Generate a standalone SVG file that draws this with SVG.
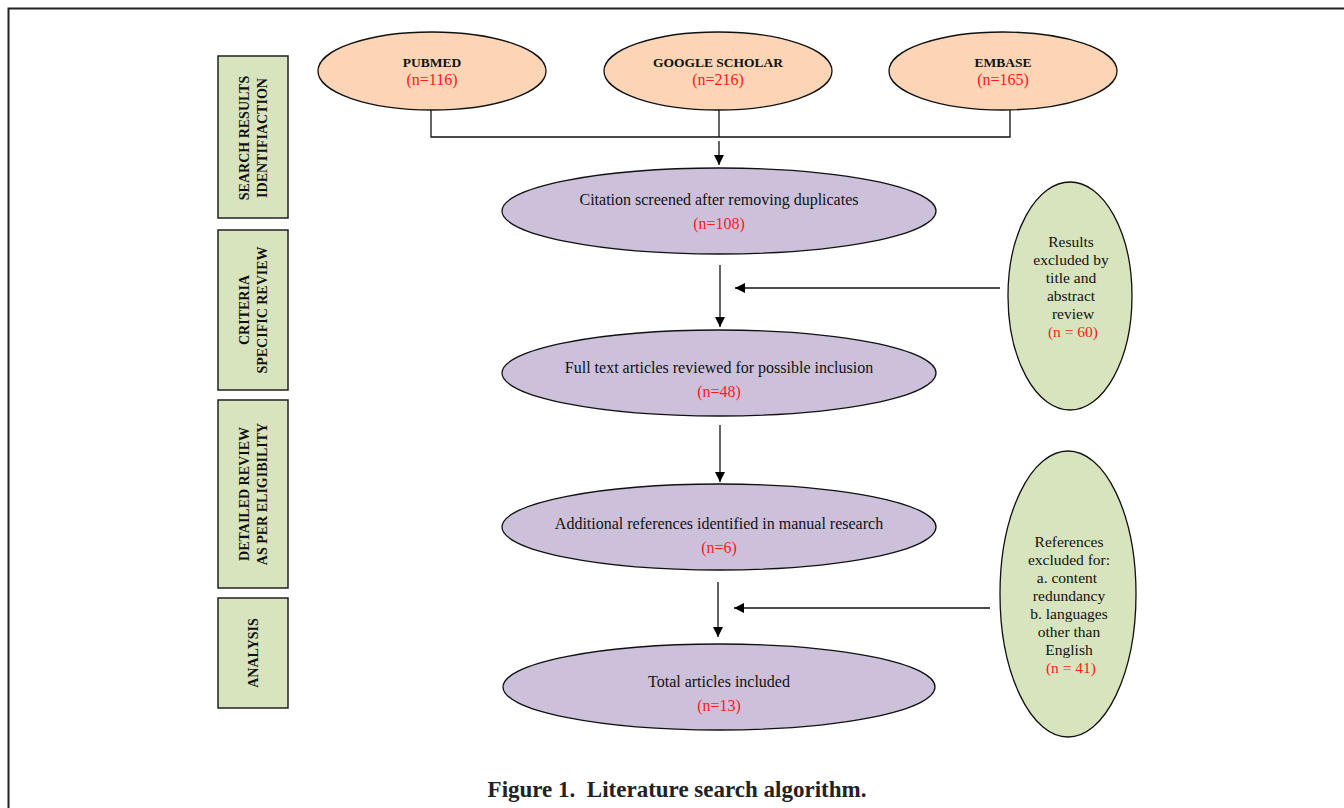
<svg xmlns="http://www.w3.org/2000/svg" width="1344" height="808" viewBox="0 0 1344 808">
<defs>
<marker id="ah" viewBox="0 0 10 10" refX="10" refY="5" markerWidth="10" markerHeight="10" markerUnits="userSpaceOnUse" orient="auto">
<path d="M0,0 L10,5 L0,10 z" fill="#000"/>
</marker>
<style>
.t{font-family:"Liberation Serif","DejaVu Serif",serif;font-size:16px;fill:#111;text-anchor:middle}
.s{font-size:15.5px}
.b{font-weight:bold;font-size:13.5px}
.r{fill:#ff1a1a}
.side{fill:#d7e4bd;stroke:#222;stroke-width:1.5}
.src{fill:#fbd5b5;stroke:#111;stroke-width:1.3}
.mid{fill:#ccc0da;stroke:#111;stroke-width:1.3}
.exc{fill:#d7e4bd;stroke:#111;stroke-width:1.3}
.ln{stroke:#111;stroke-width:1.3;fill:none}
.st{font-family:"Liberation Serif","DejaVu Serif",serif;font-size:14px;font-weight:bold;fill:#111;text-anchor:middle}
</style>
</defs>
<rect width="1344" height="808" fill="#fff"/>
<path d="M8.5,808 L8.5,8.5 L1344,8.5" fill="none" stroke="#222" stroke-width="2"/>

<g id="stage1"><rect class="side" x="218" y="56" width="70" height="162"/>
<text class="st" transform="translate(249,138) rotate(-90)">SEARCH RESULTS</text>
<text class="st" transform="translate(267,138) rotate(-90)">IDENTIFIACTION</text></g>
<g id="stage2"><rect class="side" x="218" y="230" width="70" height="160"/>
<text class="st" transform="translate(249,310) rotate(-90)">CRITERIA</text>
<text class="st" transform="translate(267,310) rotate(-90)">SPECIFIC REVIEW</text></g>
<g id="stage3"><rect class="side" x="218" y="400" width="70" height="188"/>
<text class="st" transform="translate(249,494) rotate(-90)">DETAILED REVIEW</text>
<text class="st" transform="translate(267,494) rotate(-90)">AS PER ELIGIBILITY</text></g>
<g id="stage4"><rect class="side" x="218" y="598" width="70" height="110"/>
<text class="st" transform="translate(258,653) rotate(-90)">ANALYSIS</text></g>

<g id="pubmed"><ellipse class="src" cx="432" cy="71" rx="114" ry="39"/>
<text class="t b" x="432" y="67">PUBMED</text><text class="t r" x="432" y="85">(n=116)</text></g>
<g id="scholar"><ellipse class="src" cx="718" cy="71" rx="114" ry="39"/>
<text class="t b" x="718" y="67">GOOGLE SCHOLAR</text><text class="t r" x="718" y="85">(n=216)</text></g>
<g id="embase"><ellipse class="src" cx="1003" cy="71" rx="114" ry="39"/>
<text class="t b" x="1003" y="67">EMBASE</text><text class="t r" x="1003" y="85">(n=165)</text></g>

<g id="screened"><ellipse class="mid" cx="719" cy="211" rx="217" ry="43"/>
<text class="t" x="719" y="205">Citation screened after removing duplicates</text><text class="t r" x="719" y="229">(n=108)</text></g>
<g id="fulltext"><ellipse class="mid" cx="719" cy="373" rx="217" ry="43"/>
<text class="t" x="719" y="373">Full text articles reviewed for possible inclusion</text><text class="t r" x="719" y="397">(n=48)</text></g>
<g id="additional"><ellipse class="mid" cx="719" cy="527" rx="217" ry="43"/>
<text class="t" x="719" y="529">Additional references identified in manual research</text><text class="t r" x="719" y="553">(n=6)</text></g>
<g id="total"><ellipse class="mid" cx="719" cy="687" rx="216" ry="43"/>
<text class="t" x="719" y="687">Total articles included</text><text class="t r" x="719" y="711">(n=13)</text></g>

<g id="excluded1"><ellipse class="exc" cx="1070" cy="296" rx="62" ry="114"/>
<text class="t s" x="1071" y="247">Results</text>
<text class="t s" x="1071" y="265">excluded by</text>
<text class="t s" x="1071" y="283">title and</text>
<text class="t s" x="1071" y="301">abstract</text>
<text class="t s" x="1073" y="319">review</text>
<text class="t s r" x="1073" y="337">(n = 60)</text></g>
<g id="excluded2"><ellipse class="exc" cx="1068" cy="594" rx="68" ry="143"/>
<text class="t s" x="1069" y="547">References</text>
<text class="t s" x="1069" y="565">excluded for:</text>
<text class="t s" x="1067" y="583">a. content</text>
<text class="t s" x="1069" y="601">redundancy</text>
<text class="t s" x="1069" y="619">b. languages</text>
<text class="t s" x="1069" y="637">other than</text>
<text class="t s" x="1069" y="655">English</text>
<text class="t s r" x="1071" y="673">(n = 41)</text></g>

<g id="connectors">
<path class="ln" d="M431,110 V137 H1010 V110 M719,110 V137"/>
<line class="ln" x1="719" y1="141" x2="719" y2="165" marker-end="url(#ah)"/>
<line class="ln" x1="720" y1="265" x2="720" y2="327" marker-end="url(#ah)"/>
<line class="ln" x1="720" y1="425" x2="720" y2="482" marker-end="url(#ah)"/>
<line class="ln" x1="718" y1="582" x2="718" y2="637" marker-end="url(#ah)"/>
<line class="ln" x1="1000" y1="288" x2="735" y2="288" marker-end="url(#ah)"/>
<line class="ln" x1="990" y1="608" x2="734" y2="608" marker-end="url(#ah)"/>
</g>

<text x="677" y="797" style="font-family:'Liberation Serif','DejaVu Serif',serif;font-size:23px;font-weight:bold;fill:#222;text-anchor:middle" xml:space="preserve">Figure 1.  Literature search algorithm.</text>
</svg>
